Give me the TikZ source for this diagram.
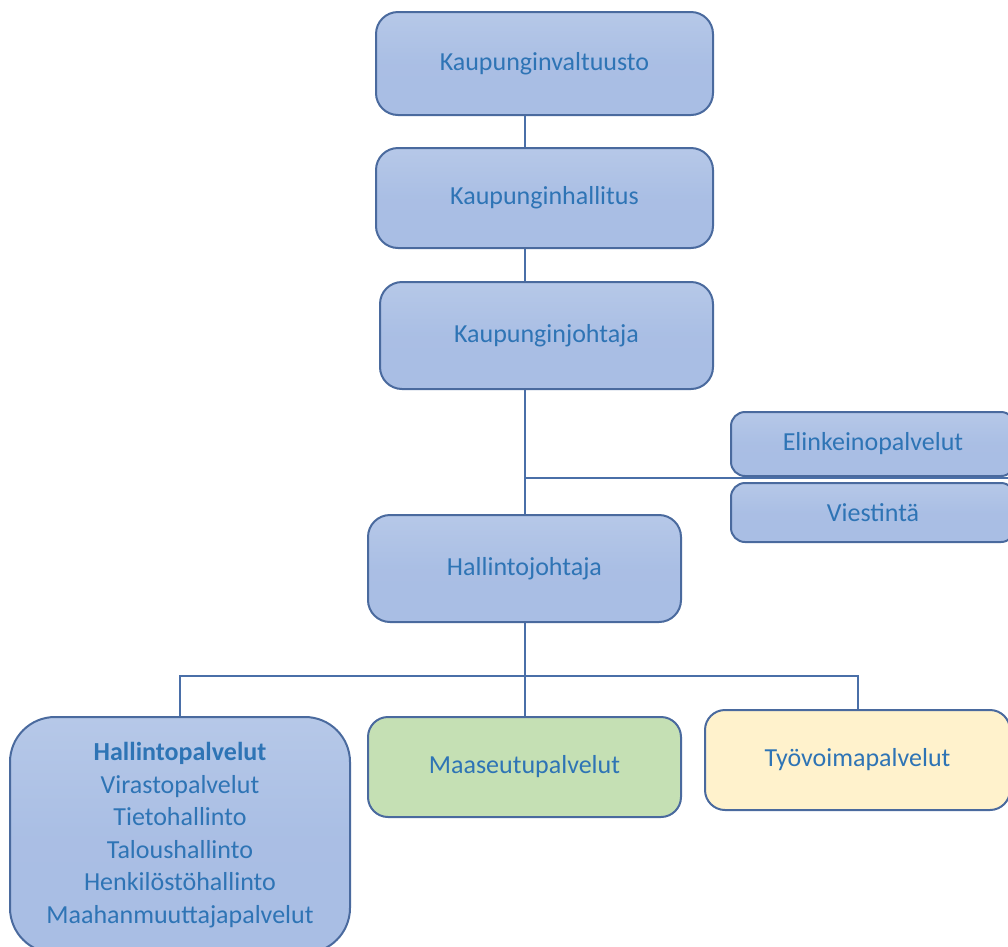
\documentclass[tikz,border=0pt]{standalone}
\usepackage{fontspec}
\setmainfont{Carlito}
\usetikzlibrary{backgrounds}
\definecolor{txt}{HTML}{2E74B5}
\definecolor{bord}{HTML}{4A6A9E}
\definecolor{btop}{HTML}{B6C8E8}
\definecolor{bbot}{HTML}{A9BEE4}
\definecolor{grn}{HTML}{C5E0B4}
\definecolor{ylw}{HTML}{FFF2CC}
\definecolor{lnc}{HTML}{4A6FA8}
\tikzset{
  base/.style={draw=bord, line width=1.5pt, text=txt, align=center, inner sep=0pt,
    font=\fontsize{19.5}{24.4}\selectfont},
  bluebox/.style={base, top color=btop, bottom color=bbot, middle color=bbot!95!btop},
  greenbox/.style={base, fill=grn},
  yellowbox/.style={base, fill=ylw},
  conn/.style={draw=lnc, line width=1.5pt}
}
\begin{document}
\begin{tikzpicture}[x=0.75pt,y=-0.75pt]
\useasboundingbox (0,0) rectangle (1008,947);
\clip (0,0) rectangle (1008,947);
\node[bluebox, minimum width=337*0.75pt, minimum height=103*0.75pt, rounded corners=22*0.75pt] (kv) at (544.5,63.5) {Kaupunginvaltuusto};
\node[bluebox, minimum width=337*0.75pt, minimum height=100*0.75pt, rounded corners=22*0.75pt] (kh) at (544.5,198) {Kaupunginhallitus};
\node[bluebox, minimum width=333*0.75pt, minimum height=107*0.75pt, rounded corners=22*0.75pt] (kj) at (546.5,335.5) {Kaupunginjohtaja};
\node[bluebox, minimum width=284*0.75pt, minimum height=64*0.75pt, rounded corners=14*0.75pt] (el) at (873,444) {Elinkeinopalvelut};
\node[bluebox, minimum width=284*0.75pt, minimum height=59*0.75pt, rounded corners=14*0.75pt] (vi) at (873,512.5) {Viestintä};
\node[bluebox, minimum width=313*0.75pt, minimum height=107*0.75pt, rounded corners=22*0.75pt] (hj) at (524.5,568.5) {Hallintojohtaja};
\node[bluebox, minimum width=340*0.75pt, minimum height=236*0.75pt, rounded corners=45*0.75pt] (hp) at (180,835)
  {\textbf{Hallintopalvelut}\\Virastopalvelut\\Tietohallinto\\Taloushallinto\\Henkilöstöhallinto\\Maahanmuuttajapalvelut};
\node[greenbox, minimum width=313*0.75pt, minimum height=100*0.75pt, rounded corners=20*0.75pt] (ms) at (524.5,767) {Maaseutupalvelut};
\node[yellowbox, minimum width=305*0.75pt, minimum height=100*0.75pt, rounded corners=20*0.75pt] (tv) at (857.5,760) {Työvoimapalvelut};
% connectors
\begin{scope}[on background layer]
\draw[conn] (kv.south -| hj.north) -- (kh.north -| hj.north);
\draw[conn] (kh.south -| hj.north) -- (kj.north -| hj.north);
\draw[conn] (kj.south -| hj.north) -- (hj.north);
\coordinate (re) at (1010,478);
\draw[conn] (hj.north |- re) -- (re);
\coordinate (bus) at (524.5,676);
\draw[conn] (hj.south) -- (ms.north);
\draw[conn] (hp.north) -- (hp.north |- bus) -- (tv.north |- bus) -- (tv.north);
\end{scope}
\end{tikzpicture}
\end{document}
